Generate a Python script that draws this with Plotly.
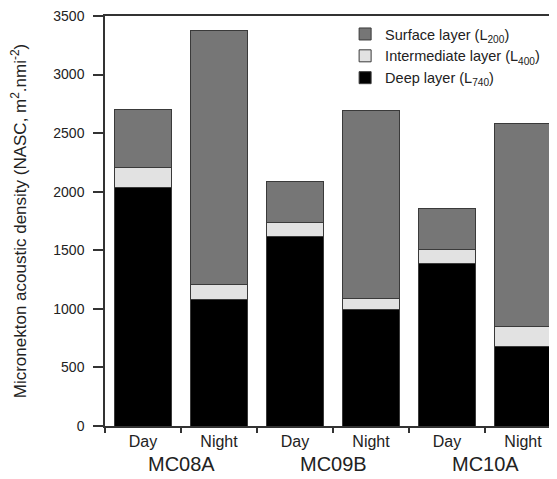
import plotly.graph_objects as go

sites = ["MC08A", "MC08A", "MC09B", "MC09B", "MC10A", "MC10A"]
periods = ["Day", "Night", "Day", "Night", "Day", "Night"]
group_labels = ["MC08A", "MC09B", "MC10A"]
deep = [2040, 1080, 1615, 995, 1385, 675]
intermediate = [170, 125, 125, 90, 120, 175]
surface = [490, 2175, 345, 1605, 355, 1735]

series_names = ["Deep layer (L<sub>740</sub>)",
                "Intermediate layer (L<sub>400</sub>)",
                "Surface layer (L<sub>200</sub>)"]
series_vals = [deep, intermediate, surface]
series_cols = ["#000000", "#e2e2e2", "#767676"]

FONT = "Liberation Sans, Arial, sans-serif"
x = list(range(len(periods)))

fig = go.Figure()
for name, vals, col in zip(series_names, series_vals, series_cols):
    fig.add_trace(go.Bar(x=x, y=vals, name=name,
                         marker=dict(color=col, line=dict(color="#3a3a3a", width=1))))

fig.update_layout(
    width=557, height=479,
    margin=dict(l=97, r=0, t=6, b=61),
    barmode="stack", bargap=0.26,
    plot_bgcolor="white", paper_bgcolor="white",
    font=dict(family=FONT, color="#222", size=13),
    legend=dict(x=0.522, y=0.995, xanchor="left", yanchor="top",
                font=dict(size=14.5, family=FONT, color="#222"),
                bgcolor="rgba(0,0,0,0)", tracegroupgap=0),
    xaxis=dict(range=[-0.5, -0.5 + 460 / 76], tickvals=x, ticktext=periods,
               ticks="", showline=True, linecolor="#333", linewidth=1.5, mirror=True,
               showgrid=False, zeroline=False, tickfont=dict(size=16),
               ticklabelstandoff=0,
               minor=dict(tick0=0.5, dtick=1, ticks="outside", ticklen=5,
                          tickcolor="#333", tickwidth=1.5, showgrid=False)),
    yaxis=dict(range=[0, 3500], dtick=500, ticks="outside", ticklen=10,
               tickcolor="#333", tickwidth=1.5, showline=True, linecolor="#333",
               linewidth=1.5, showgrid=False, zeroline=False, tickfont=dict(size=14),
               ticklabeloverflow="allow", ticklabelstandoff=6,
               title=dict(text="Micronekton acoustic density (NASC, m<sup>2</sup>.nmi<sup>-2</sup>)",
                          font=dict(size=17), standoff=24)),
)

for i, g in enumerate(group_labels):
    fig.add_annotation(x=2 * i + 0.5, y=-0.092, xref="x", yref="paper",
                       text=g, showarrow=False, font=dict(size=20, family=FONT, color="#222"),
                       yanchor="middle")

fig.write_html("out.html")
